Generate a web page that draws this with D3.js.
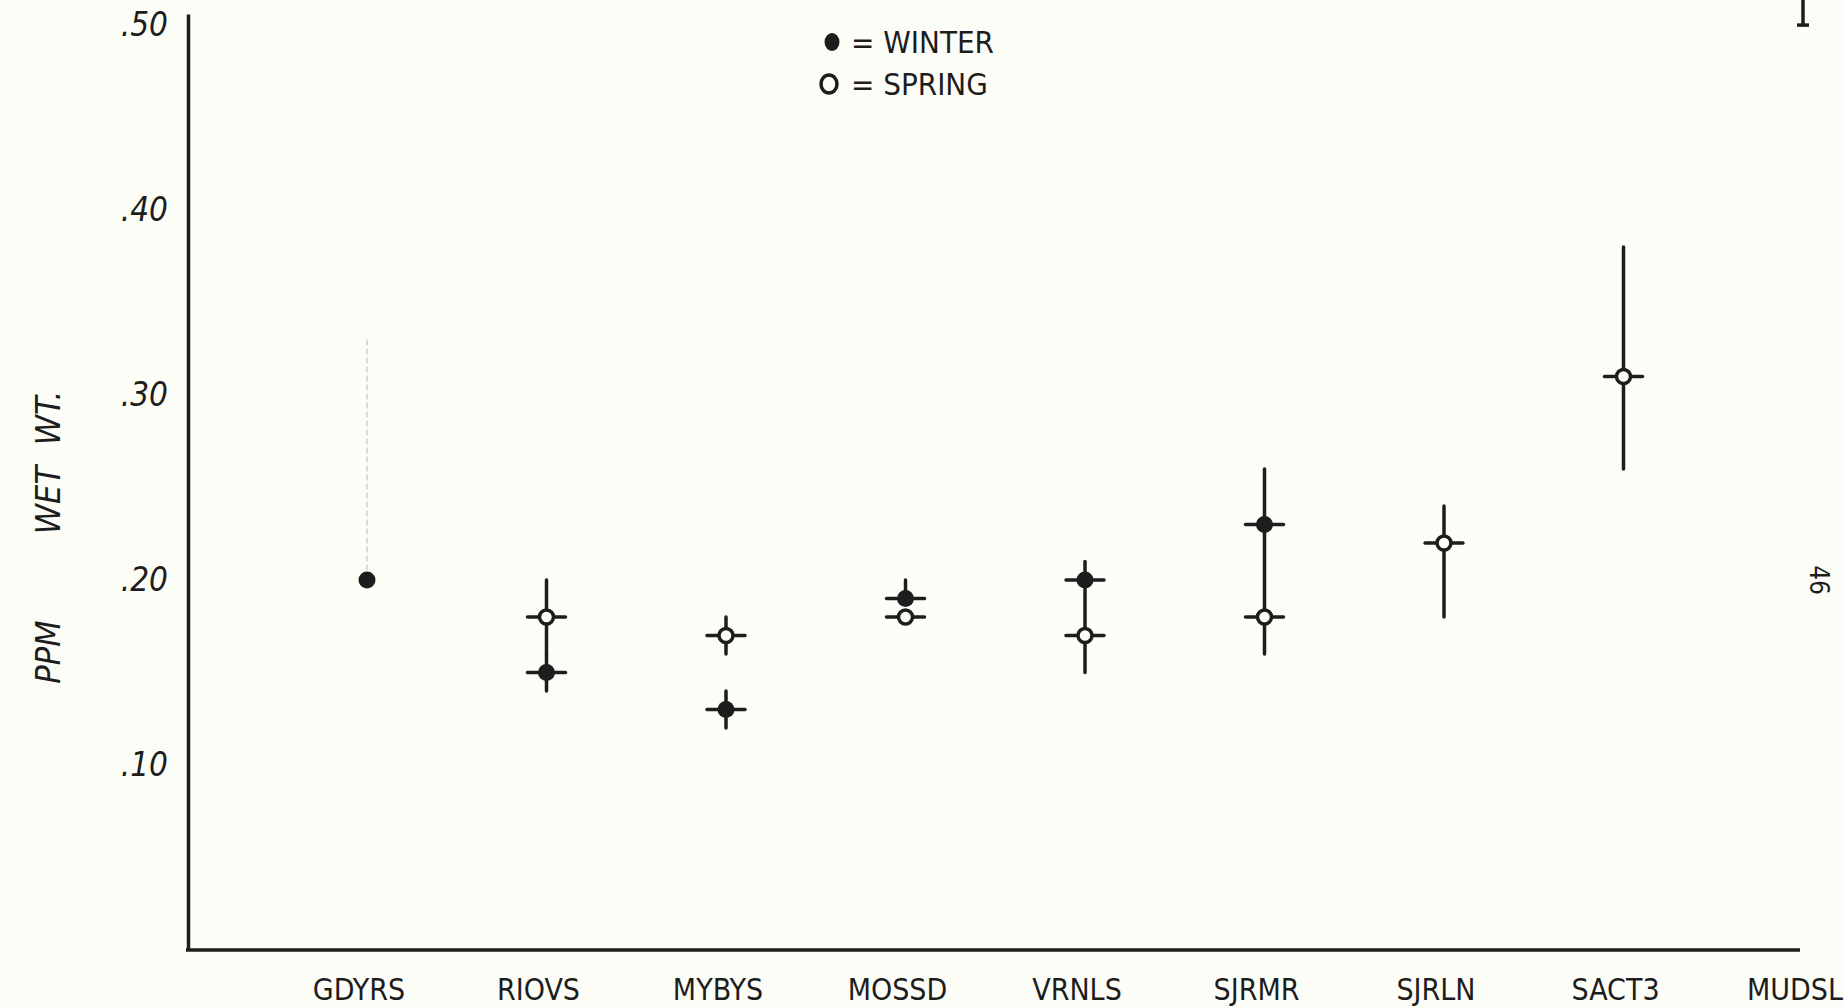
<!DOCTYPE html>
<html>
<head>
<meta charset="utf-8">
<script src="https://cdn.jsdelivr.net/npm/d3@7"></script>
<style>
  html, body { margin: 0; padding: 0; background: #fdfdf8; }
  svg { display: block; }
  text { fill: #1d1d1d; font-family: "Liberation Sans Narrow", "DejaVu Sans Condensed", "Liberation Sans", sans-serif; }
</style>
</head>
<body>
<svg width="1844" height="1008"></svg>
<script>
// stations along the x axis
const categories = ["GDYRS", "RIOVS", "MYBYS", "MOSSD", "VRNLS", "SJRMR", "SJRLN", "SACT3", "MUDSL"];

// winter (filled dot) - mean and range, ppm wet wt.
const winterMean = [0.20, 0.15, 0.13, 0.19, 0.20, 0.23, null, null, null];
const winterLow  = [null, 0.14, 0.12, 0.19, 0.17, 0.18, null, null, null];
const winterHigh = [null, 0.16, 0.14, 0.20, 0.21, 0.26, null, null, null];

// spring (open circle)
const springMean = [null, 0.18, 0.17, 0.18, 0.17, 0.18, 0.22, 0.31, null];
const springLow  = [null, 0.16, 0.16, 0.18, 0.15, 0.16, 0.18, 0.26, null];
const springHigh = [null, 0.20, 0.18, 0.18, 0.17, 0.18, 0.24, 0.38, null];

// MUDSL runs off the top of the sheet, only the bottom of its bar shows
const offScaleCat = ["MUDSL"];
const offScaleLow = [0.50];

const yTicks = [0.10, 0.20, 0.30, 0.40, 0.50];

const svg = d3.select("svg");
const ink = "#1d1d1d";

const x = d3.scalePoint().domain(categories).range([367, 1803]);
const y = d3.scaleLinear().domain([0, 0.506]).range([950, 14]);
const axisLeftX = 188;

// y axis (hand drawn look: no tick marks, labels written beside it)
const yAxis = svg.append("g")
    .attr("transform", "translate(" + axisLeftX + ",0)")
    .call(d3.axisLeft(y)
        .tickValues(yTicks)
        .tickSize(0)
        .tickSizeOuter(0)
        .tickPadding(20)
        .tickFormat(function(d) { return d3.format(".2f")(d).replace(/^0/, ""); }));
yAxis.select(".domain").attr("stroke", ink).attr("stroke-width", 3.5);
yAxis.selectAll("text")
    .attr("font-size", 33)
    .attr("font-style", "italic")
    .attr("fill", ink);

// x axis baseline
svg.append("line")
    .attr("x1", axisLeftX - 2).attr("x2", x("MUDSL") - 3)
    .attr("y1", y(0)).attr("y2", y(0))
    .attr("stroke", ink).attr("stroke-width", 3.5);

// station names
svg.append("g").selectAll("text")
    .data(categories)
    .enter().append("text")
    .attr("x", function(d) { return x(d) - 8; })
    .attr("y", 1000)
    .attr("text-anchor", "middle")
    .attr("font-size", 30)
    .attr("fill", ink)
    .text(function(d) { return d; });

// y title
const titleWords = [["PPM", 652], ["WET", 500], ["WT.", 418]];
svg.append("g").selectAll("text")
    .data(titleWords)
    .enter().append("text")
    .attr("transform", function(d) { return "translate(60," + d[1] + ") rotate(-90)"; })
    .attr("text-anchor", "middle")
    .attr("font-size", 34)
    .attr("font-style", "italic")
    .text(function(d) { return d[0]; });

// faint pencil trace above GDYRS (left on the original sheet)
svg.append("line")
    .attr("x1", x("GDYRS")).attr("x2", x("GDYRS"))
    .attr("y1", y(0.33)).attr("y2", y(0.205))
    .attr("stroke", "#cfcfca").attr("stroke-width", 1.5)
    .attr("stroke-dasharray", "6,3");

function rows(mean, low, high) {
    return categories.map(function(c, i) {
        return { cat: c, mean: mean[i], low: low[i], high: high[i] };
    }).filter(function(d) { return d.mean !== null; });
}
const winter = rows(winterMean, winterLow, winterHigh);
const spring = rows(springMean, springLow, springHigh);

// range bars
function drawBars(data) {
    svg.append("g").selectAll("line")
        .data(data.filter(function(d) { return d.low !== null; }))
        .enter().append("line")
        .attr("x1", function(d) { return x(d.cat); })
        .attr("x2", function(d) { return x(d.cat); })
        .attr("y1", function(d) { return y(d.low); })
        .attr("y2", function(d) { return y(d.high); })
        .attr("stroke", ink).attr("stroke-width", 3.5)
        .attr("stroke-linecap", "round");
    svg.append("g").selectAll("line")
        .data(data.filter(function(d) { return d.low !== null; }))
        .enter().append("line")
        .attr("x1", function(d) { return x(d.cat) - 19; })
        .attr("x2", function(d) { return x(d.cat) + 19; })
        .attr("y1", function(d) { return y(d.mean); })
        .attr("y2", function(d) { return y(d.mean); })
        .attr("stroke", ink).attr("stroke-width", 3.5)
        .attr("stroke-linecap", "round");
}
drawBars(winter);
drawBars(spring);

svg.append("g").selectAll("circle")
    .data(winter)
    .enter().append("circle")
    .attr("cx", function(d) { return x(d.cat); })
    .attr("cy", function(d) { return y(d.mean); })
    .attr("r", 8.5)
    .attr("fill", ink);

svg.append("g").selectAll("circle")
    .data(spring)
    .enter().append("circle")
    .attr("cx", function(d) { return x(d.cat); })
    .attr("cy", function(d) { return y(d.mean); })
    .attr("r", 7)
    .attr("fill", "#fdfdf8")
    .attr("stroke", ink).attr("stroke-width", 3.5);

// off-scale bar at MUDSL
const off = svg.append("g").selectAll("g")
    .data(offScaleCat.map(function(c, i) { return { cat: c, low: offScaleLow[i] }; }))
    .enter().append("g");
off.append("line")
    .attr("x1", function(d) { return x(d.cat); })
    .attr("x2", function(d) { return x(d.cat); })
    .attr("y1", function(d) { return y(d.low); })
    .attr("y2", -5)
    .attr("stroke", ink).attr("stroke-width", 3.5);
off.append("line")
    .attr("x1", function(d) { return x(d.cat) - 6; })
    .attr("x2", function(d) { return x(d.cat) + 6; })
    .attr("y1", function(d) { return y(d.low); })
    .attr("y2", function(d) { return y(d.low); })
    .attr("stroke", ink).attr("stroke-width", 3.5);

// legend
const legend = svg.append("g");
legend.append("ellipse")
    .attr("cx", 832).attr("cy", 42).attr("rx", 7.5).attr("ry", 9)
    .attr("fill", ink);
legend.append("text")
    .attr("x", 851).attr("y", 53)
    .attr("font-size", 31)
    .text("=  WINTER");
legend.append("ellipse")
    .attr("cx", 829).attr("cy", 84).attr("rx", 8).attr("ry", 9)
    .attr("fill", "none").attr("stroke", ink).attr("stroke-width", 3.5);
legend.append("text")
    .attr("x", 851).attr("y", 95)
    .attr("font-size", 31)
    .text("=  SPRING");

// page number written sideways in the margin
svg.append("text")
    .attr("transform", "translate(1810,580) rotate(90)")
    .attr("text-anchor", "middle")
    .attr("font-size", 26)
    .attr("fill", "#555")
    .attr("font-family", "DejaVu Sans")
    .text("46");
</script>
</body>
</html>
